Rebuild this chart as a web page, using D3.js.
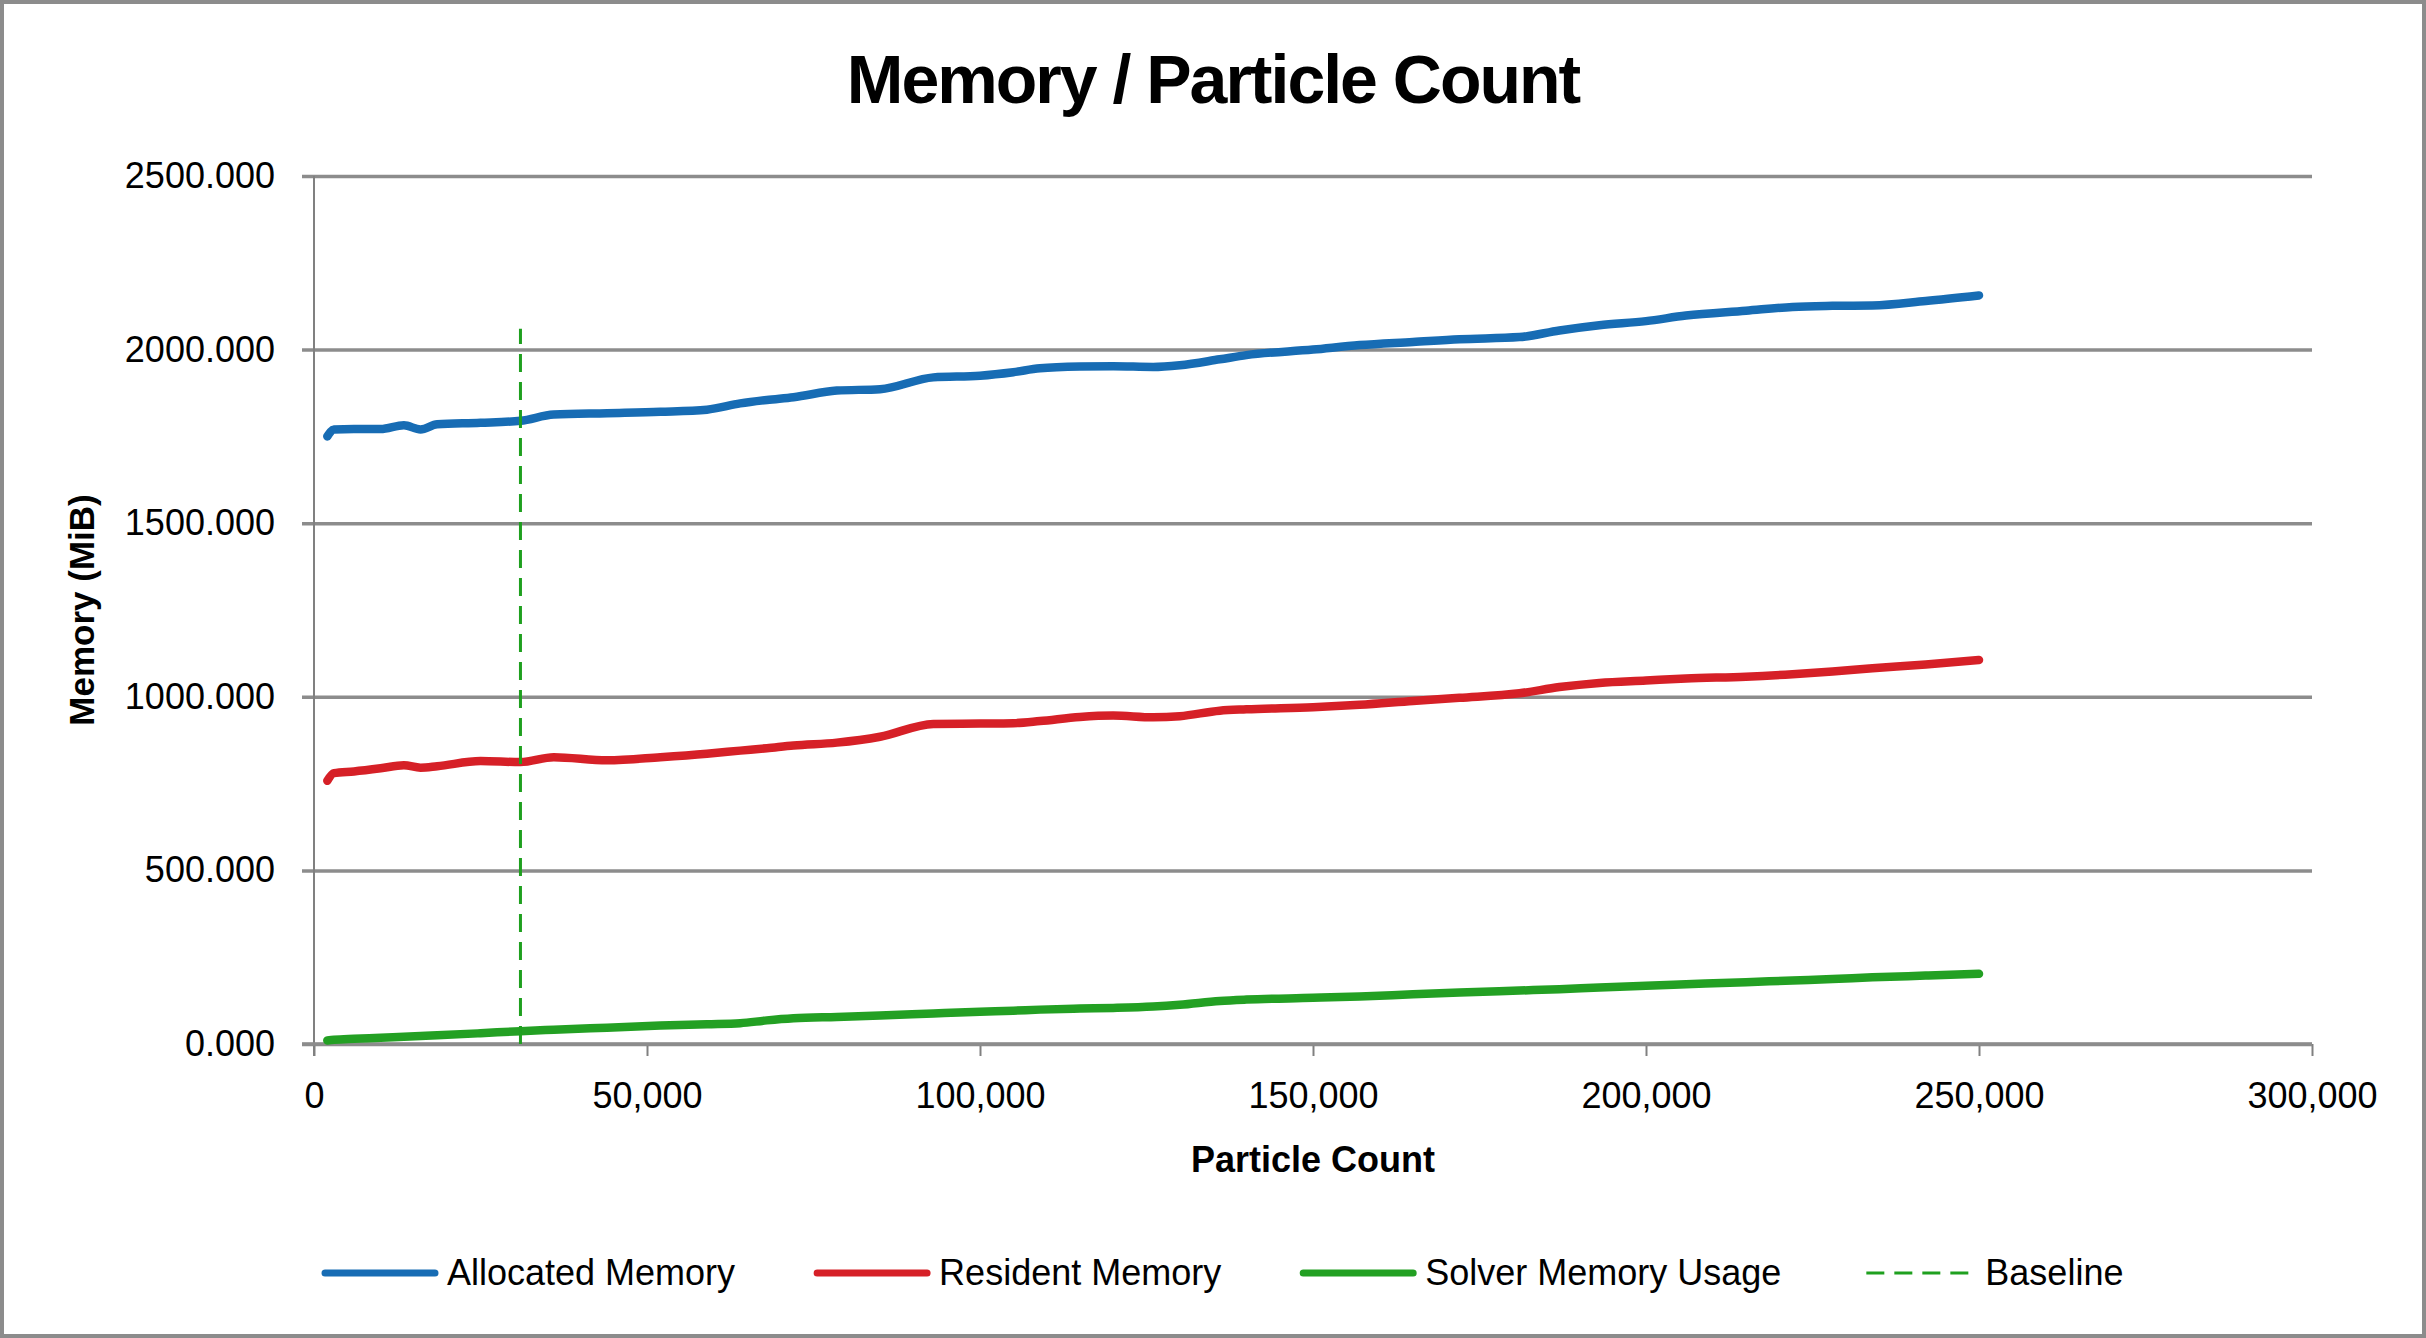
<!DOCTYPE html>
<html>
<head>
<meta charset="utf-8">
<script src="https://cdn.jsdelivr.net/npm/d3@7"></script>
<style>
  html, body { margin: 0; padding: 0; background: #fff; }
  svg { display: block; }
  text { font-family: "Liberation Sans", Arial, sans-serif; fill: #000; }
</style>
</head>
<body>
<svg id="chart" width="2426" height="1338"></svg>
<script>
// ---- Data ----
const particleCounts = [2000, 3000, 6000, 10000, 13500, 16000, 18500, 25000, 31000, 36000, 44000, 52000, 59000, 64000, 68000, 72000, 78500, 85000, 93000, 100000, 105000, 109000, 115000, 120000, 126000, 130000, 136000, 140000, 150000, 157000, 165000, 172000, 181000, 187000, 193000, 200000, 206000, 215000, 222000, 228000, 234000, 242000, 250000];
const allocatedMemory = [1750, 1770, 1771, 1771, 1782, 1770, 1785, 1789, 1795, 1813, 1817, 1821, 1827, 1845, 1855, 1863, 1882, 1886, 1920, 1925, 1935, 1946, 1951, 1952, 1950, 1955, 1972, 1984, 2000, 2013, 2022, 2030, 2036, 2055, 2070, 2082, 2098, 2112, 2123, 2126, 2127, 2140, 2156];
const residentMemory = [758, 780, 785, 794, 803, 796, 800, 815, 812, 826, 817, 826, 836, 845, 852, 860, 868, 885, 922, 923, 924, 930, 942, 946, 941, 944, 960, 964, 970, 977, 988, 997, 1010, 1028, 1040, 1047, 1053, 1058, 1065, 1073, 1082, 1093, 1106];
const solverMemory = [10, 12, 15, 18, 21, 23, 25, 31, 37, 41, 47, 53, 57, 60, 68, 74, 78, 82, 88, 93, 96, 99, 102, 104, 108, 113, 124, 128, 133, 137, 143, 148, 154, 158, 163, 168, 172, 178, 183, 187, 192, 197, 202];
const baselineX = [31000, 31000];
const baselineY = [0, 2060];
const yTicks = [0, 500, 1000, 1500, 2000, 2500];
const xTicks = [0, 50000, 100000, 150000, 200000, 250000, 300000];
const seriesNames = ["Allocated Memory", "Resident Memory", "Solver Memory Usage", "Baseline"];
const seriesColors = ["#176CB4", "#D62027", "#23A023", "#1FA01F"];

// ---- Layout ----
const W = 2426, H = 1338;
const plot = { left: 314, right: 2312, top: 176, bottom: 1044 };
const svg = d3.select("#chart");

svg.append("rect").attr("x", 2).attr("y", 2).attr("width", W - 4).attr("height", H - 4)
  .attr("fill", "#fff").attr("stroke", "#8c8c8c").attr("stroke-width", 4);

const x = d3.scaleLinear().domain([0, 300000]).range([plot.left, plot.right]);
const y = d3.scaleLinear().domain([0, 2500]).range([plot.bottom, plot.top]);

// gridlines + y axis ticks
const yAxis = d3.axisLeft(y).tickValues(yTicks).tickFormat(d3.format(".3f"))
  .tickSize(-(plot.right - plot.left)).tickPadding(39);
const gy = svg.append("g").attr("transform", `translate(${plot.left},0)`).call(yAxis);
gy.select(".domain").remove();
gy.selectAll(".tick line").attr("stroke", "#8c8c8c").attr("stroke-width", 3.5).attr("x1", -12);
gy.selectAll(".tick text").attr("font-size", 36).attr("font-family", "Liberation Sans, Arial, sans-serif").attr("fill", "#000");

// y axis line
svg.append("line").attr("x1", plot.left).attr("x2", plot.left)
  .attr("y1", plot.top).attr("y2", plot.bottom + 12)
  .attr("stroke", "#808080").attr("stroke-width", 2);

// x axis
const xAxis = d3.axisBottom(x).tickValues(xTicks).tickFormat(d3.format(",")).tickSize(12).tickPadding(26);
const gx = svg.append("g").attr("transform", `translate(0,${plot.bottom})`).call(xAxis);
gx.select(".domain").remove();
gx.selectAll(".tick line").attr("stroke", "#808080").attr("stroke-width", 2);
gx.selectAll(".tick text").attr("font-size", 36).attr("font-family", "Liberation Sans, Arial, sans-serif").attr("fill", "#000");
svg.append("line").attr("x1", plot.left - 12).attr("x2", plot.right)
  .attr("y1", plot.bottom).attr("y2", plot.bottom)
  .attr("stroke", "#8c8c8c").attr("stroke-width", 3.5);

// series
const allSeries = [allocatedMemory, residentMemory, solverMemory];
const line = d3.line().x(d => x(d[0])).y(d => y(d[1])).curve(d3.curveMonotoneX);
allSeries.forEach((vals, i) => {
  const pts = particleCounts.map((p, j) => [p, vals[j]]);
  svg.append("path").datum(pts).attr("d", line)
    .attr("fill", "none").attr("stroke", seriesColors[i]).attr("stroke-width", 8.5)
    .attr("stroke-linecap", "round").attr("stroke-linejoin", "round");
});

// baseline
svg.append("path").datum(baselineX.map((b, j) => [b, baselineY[j]]))
  .attr("d", d3.line().x(d => x(d[0])).y(d => y(d[1])))
  .attr("fill", "none").attr("stroke", seriesColors[3]).attr("stroke-width", 3)
  .attr("stroke-dasharray", "18,10");

// titles
svg.append("text").attr("x", W / 2).attr("y", 103).attr("text-anchor", "middle")
  .attr("font-size", 68).attr("font-weight", "bold").attr("letter-spacing", -2)
  .text("Memory / Particle Count");
svg.append("text").attr("x", (plot.left + plot.right) / 2).attr("y", 1172).attr("text-anchor", "middle")
  .attr("font-size", 36).attr("font-weight", "bold")
  .text("Particle Count");
svg.append("text").attr("transform", `translate(94,${(plot.top + plot.bottom) / 2}) rotate(-90)`)
  .attr("text-anchor", "middle").attr("font-size", 35).attr("font-weight", "bold")
  .text("Memory (MiB)");

// legend
let lx = 325;
const ly = 1273;
seriesNames.forEach((name, i) => {
  const g = svg.append("g");
  const ln = g.append("line").attr("x1", lx).attr("x2", lx + 110).attr("y1", ly).attr("y2", ly)
    .attr("stroke", seriesColors[i]);
  if (i === 3) ln.attr("stroke-width", 3).attr("stroke-dasharray", "18,10").attr("x1", lx + 3);
  else ln.attr("stroke-width", 7).attr("stroke-linecap", "round");
  const t = g.append("text").attr("x", lx + 122).attr("y", ly + 12).attr("font-size", 36).text(name);
  lx += 122 + t.node().getComputedTextLength() + 82;
});
</script>
</body>
</html>
